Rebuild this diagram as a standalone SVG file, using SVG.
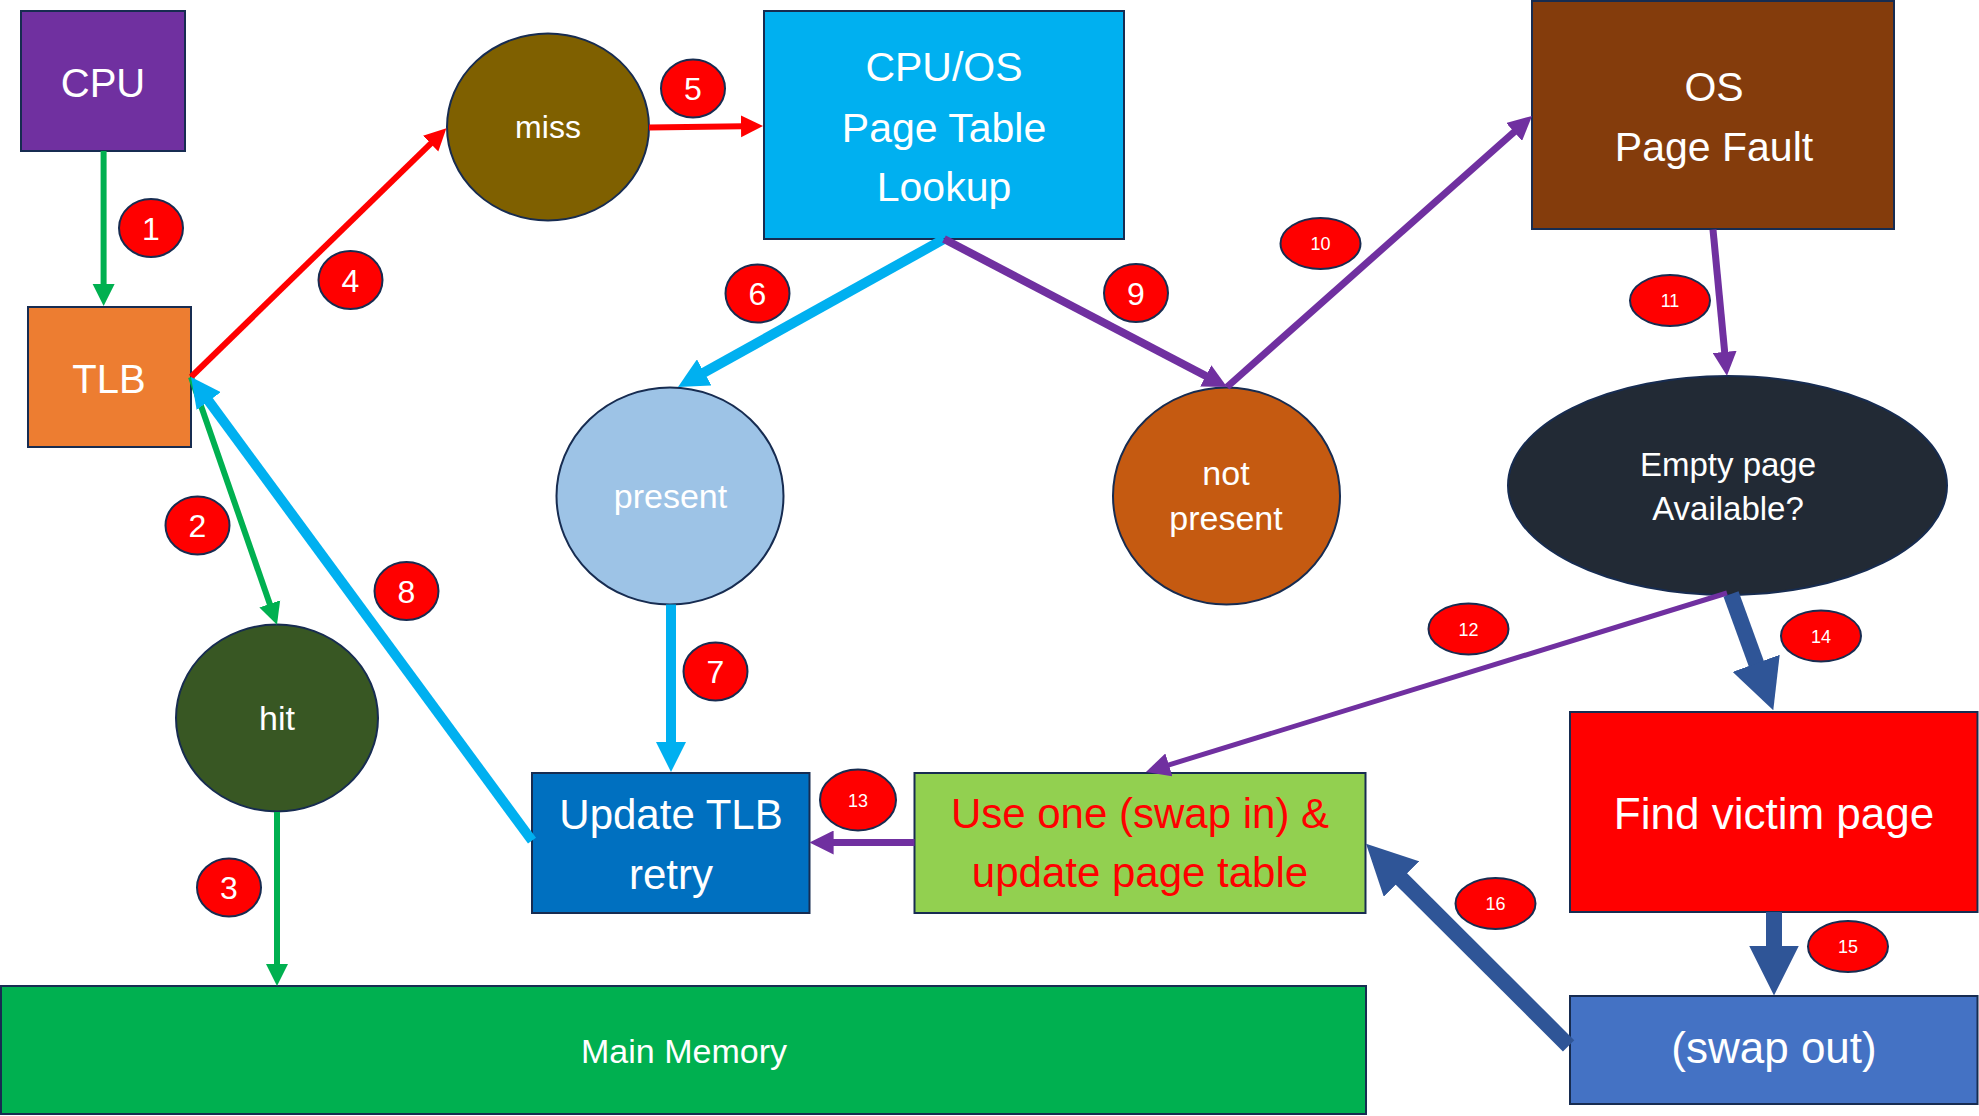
<svg xmlns="http://www.w3.org/2000/svg" width="1979" height="1116" viewBox="0 0 1979 1116">
<style>
text{font-family:"Liberation Sans",Arial,sans-serif;fill:#fff;text-anchor:middle}
.nd{stroke:#172C51;stroke-width:2}
.big{font-size:41px}
.mid{font-size:34px}
.bdg{fill:#FF0000;stroke:#172C51;stroke-width:2}
.bn{font-size:32px}
.sn{font-size:18px}
.c{fill:none;stroke-linecap:butt}
.g{stroke:#00B050;stroke-width:6}
.r{stroke:#FF0000;stroke-width:6}
.cy{stroke:#00B0F0;stroke-width:10}
.p{stroke:#7030A0;stroke-width:7}
.nv{stroke:#2F5597;stroke-width:16}
</style>
<defs>
<marker id="mg" viewBox="0 0 10 10" refX="1" refY="5" markerUnits="userSpaceOnUse" markerWidth="22" markerHeight="24" orient="auto"><path d="M0,0L10,5L0,10z" fill="#00B050"/></marker>
<marker id="mr" viewBox="0 0 10 10" refX="1" refY="5" markerUnits="userSpaceOnUse" markerWidth="22" markerHeight="24" orient="auto"><path d="M0,0L10,5L0,10z" fill="#FF0000"/></marker>
<marker id="mc" viewBox="0 0 10 10" refX="1" refY="5" markerUnits="userSpaceOnUse" markerWidth="30" markerHeight="30" orient="auto"><path d="M0,0L10,5L0,10z" fill="#00B0F0"/></marker>
<marker id="mp" viewBox="0 0 10 10" refX="1" refY="5" markerUnits="userSpaceOnUse" markerWidth="24" markerHeight="24" orient="auto"><path d="M0,0L10,5L0,10z" fill="#7030A0"/></marker>
<marker id="mn" viewBox="0 0 10 10" refX="1" refY="5" markerUnits="userSpaceOnUse" markerWidth="50" markerHeight="50" orient="auto"><path d="M0,0L10,5L0,10z" fill="#2F5597"/></marker>
</defs>
<rect width="1979" height="1116" fill="#fff"/>

<g id="cpu"><rect class="nd" x="21" y="11" width="164" height="140" fill="#7030A0"/><text x="103" y="97" style="font-size:40px">CPU</text></g>
<g id="tlb"><rect class="nd" x="28" y="307" width="163" height="140" fill="#ED7D31"/><text x="109" y="393" style="font-size:40px">TLB</text></g>
<g id="miss"><ellipse class="nd" cx="548" cy="127" rx="101" ry="93.5" fill="#7F6000"/><text x="548" y="138" style="font-size:32px">miss</text></g>
<g id="lookup"><rect class="nd" x="764" y="11" width="360" height="228" fill="#00B0F0"/><text class="big" x="944" y="81">CPU/OS</text><text class="big" x="944" y="142">Page Table</text><text class="big" x="944" y="201">Lookup</text></g>
<g id="pagefault"><rect class="nd" x="1532" y="1" width="362" height="228" fill="#843C0C"/><text class="big" x="1714" y="101">OS</text><text class="big" x="1714" y="161">Page Fault</text></g>
<g id="empty"><ellipse class="nd" cx="1727.5" cy="485.5" rx="219.5" ry="109.5" fill="#222A35"/><text x="1728" y="476" style="font-size:33px">Empty page</text><text x="1728" y="520" style="font-size:33px">Available?</text></g>
<g id="present"><ellipse class="nd" cx="670" cy="496" rx="113.5" ry="108.5" fill="#9DC3E6"/><text class="mid" x="670.5" y="508">present</text></g>
<g id="notpresent"><ellipse class="nd" cx="1226.5" cy="496" rx="113.5" ry="108.5" fill="#C55A11"/><text class="mid" x="1226" y="485">not</text><text class="mid" x="1226" y="530">present</text></g>
<g id="hit"><ellipse class="nd" cx="277" cy="718" rx="101" ry="93.5" fill="#385723"/><text class="mid" x="277" y="730">hit</text></g>
<g id="updatetlb"><rect class="nd" x="532" y="773" width="277.5" height="140" fill="#0070C0"/><text x="671" y="829" style="font-size:42px">Update TLB</text><text x="671" y="889" style="font-size:42px">retry</text></g>
<g id="useone"><rect class="nd" x="914.5" y="773" width="451" height="140" fill="#92D050"/><text x="1140" y="828" style="font-size:42px;fill:#FF0000">Use one (swap in) &amp;</text><text x="1140" y="887" style="font-size:42px;fill:#FF0000">update page table</text></g>
<g id="victim"><rect class="nd" x="1570" y="712" width="407.5" height="200" fill="#FF0000"/><text x="1774" y="829" style="font-size:44px">Find victim page</text></g>
<g id="swapout"><rect class="nd" x="1570" y="996" width="407.5" height="108" fill="#4472C4"/><text x="1774" y="1063" style="font-size:44px">(swap out)</text></g>
<g id="mainmem"><rect class="nd" x="1" y="986" width="1365" height="128" fill="#00B050"/><text class="mid" x="684" y="1063">Main Memory</text></g>

<g id="connectors">
<path class="c g" d="M103.6,151L103.6,286.2" marker-end="url(#mg)"/>
<path class="c g" d="M191,377L270.5,606" marker-end="url(#mg)"/>
<path class="c g" d="M277,812L277,966.2" marker-end="url(#mg)"/>
<path class="c r" d="M191,377L432.2,142.1" marker-end="url(#mr)"/>
<path class="c r" d="M649,127.5L743.2,126.3" marker-end="url(#mr)"/>
<path class="c cy" d="M944,239L701.6,373.9" marker-end="url(#mc)"/>
<path class="c cy" d="M671,604.5L671,745" marker-end="url(#mc)"/>
<path class="c cy" d="M532,840.6L207,398.7" marker-end="url(#mc)"/>
<path class="c p" style="stroke-width:8" d="M944,239L1207.9,377" marker-end="url(#mp)"/>
<path class="c p" d="M1227,387L1515.9,130.3" marker-end="url(#mp)"/>
<path class="c p" d="M1713,229.6L1724.9,354.3" marker-end="url(#mp)"/>
<path class="c p" style="stroke-width:5" d="M1727,593L1166.6,765.6" marker-end="url(#mp)"/>
<path class="c p" d="M914.5,842.5L831.2,842.5" marker-end="url(#mp)"/>
<path class="c nv" d="M1731,594L1757.9,668" marker-end="url(#mn)"/>
<path class="c nv" d="M1774,912L1774,950.5" marker-end="url(#mn)"/>
<path class="c nv" d="M1568.6,1045.8L1397.9,875.5" marker-end="url(#mn)"/>
</g>

<g id="badges">
<g id="b1"><ellipse class="bdg" cx="151" cy="228" rx="32" ry="29"/><text class="bn" x="151" y="239.5">1</text></g>
<g id="b2"><ellipse class="bdg" cx="197.5" cy="525.5" rx="32" ry="29"/><text class="bn" x="197.5" y="537">2</text></g>
<g id="b3"><ellipse class="bdg" cx="229" cy="887.5" rx="32" ry="29"/><text class="bn" x="229" y="899">3</text></g>
<g id="b4"><ellipse class="bdg" cx="350.5" cy="280" rx="32" ry="29"/><text class="bn" x="350.5" y="291.5">4</text></g>
<g id="b5"><ellipse class="bdg" cx="693" cy="88.5" rx="32" ry="29"/><text class="bn" x="693" y="100">5</text></g>
<g id="b6"><ellipse class="bdg" cx="757.5" cy="293.5" rx="32" ry="29"/><text class="bn" x="757.5" y="305">6</text></g>
<g id="b7"><ellipse class="bdg" cx="715.5" cy="671.5" rx="32" ry="29"/><text class="bn" x="715.5" y="683">7</text></g>
<g id="b8"><ellipse class="bdg" cx="406.5" cy="591" rx="32" ry="29"/><text class="bn" x="406.5" y="602.5">8</text></g>
<g id="b9"><ellipse class="bdg" cx="1136" cy="293" rx="32" ry="29"/><text class="bn" x="1136" y="304.5">9</text></g>
<g id="b10"><ellipse class="bdg" cx="1320.5" cy="243.5" rx="40" ry="25.5"/><text class="sn" x="1320.5" y="250">10</text></g>
<g id="b11"><ellipse class="bdg" cx="1670" cy="300.5" rx="40" ry="25.5"/><text class="sn" x="1670" y="307">11</text></g>
<g id="b12"><ellipse class="bdg" cx="1468.5" cy="629" rx="40" ry="25.5"/><text class="sn" x="1468.5" y="635.5">12</text></g>
<g id="b13"><ellipse class="bdg" cx="858" cy="800" rx="38" ry="30.5"/><text class="sn" x="858" y="806.5">13</text></g>
<g id="b14"><ellipse class="bdg" cx="1821" cy="636" rx="40" ry="25.5"/><text class="sn" x="1821" y="642.5">14</text></g>
<g id="b15"><ellipse class="bdg" cx="1848" cy="946.5" rx="40" ry="25.5"/><text class="sn" x="1848" y="953">15</text></g>
<g id="b16"><ellipse class="bdg" cx="1495.5" cy="903.5" rx="40" ry="25.5"/><text class="sn" x="1495.5" y="910">16</text></g>
</g>
</svg>
